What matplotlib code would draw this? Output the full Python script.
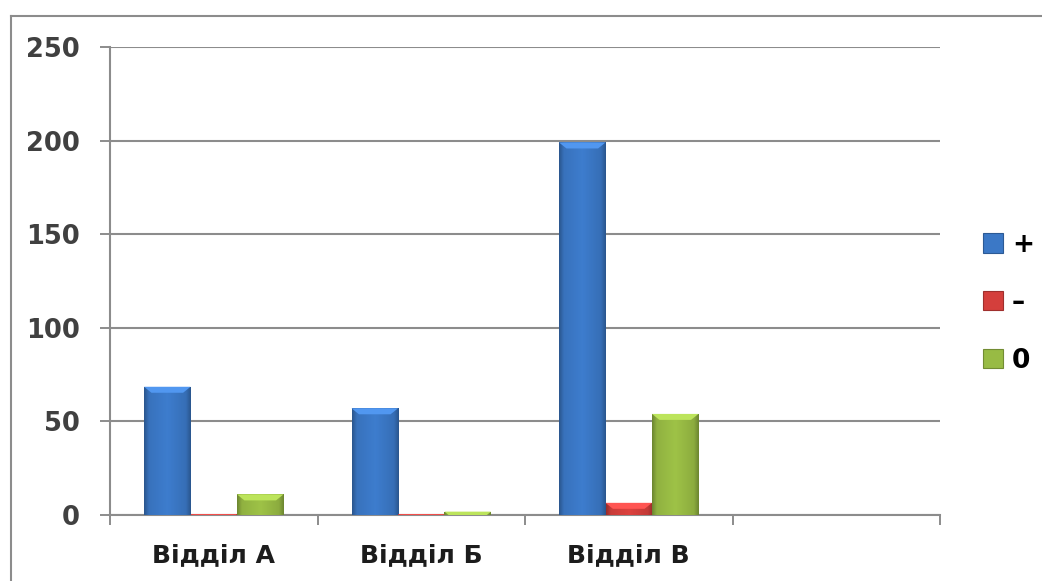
import numpy as np
import matplotlib.pyplot as plt
from matplotlib.colors import LinearSegmentedColormap, to_rgb
from matplotlib.lines import Line2D
from matplotlib.patches import Patch, Polygon

departments = ['Відділ А', 'Відділ Б', 'Відділ В', '']
series_names = ['+', '–', '0']
plus_vals = [68.5, 57, 199, 0]
minus_vals = [0.4, 0.4, 6.5, 0]
zero_vals = [11, 1.8, 54, 0]
series_colors = ['#3b78c6', '#d43f3c', '#98bb44']

GRID = '#8c8c8c'
BEVEL = 3.2  # height of the lit top face, in data units


def shaded(color):
    # narrow dark sides, flat body
    c = np.array(to_rgb(color))
    dark = c * 0.72
    return LinearSegmentedColormap.from_list(
        'b', [(0, dark), (0.1, c * 0.95), (0.5, np.clip(c * 1.04, 0, 1)),
              (0.9, c * 0.92), (1, dark)])


def draw_bars(ax, xs, vals, color):
    bars = ax.bar(xs, vals, width=0.224, color=color, edgecolor='none', zorder=3)
    cmap = shaded(color)
    grad = np.linspace(0, 1, 64).reshape(1, -1)
    light = np.clip(np.array(to_rgb(color)) * 1.15 + 0.05, 0, 1)
    for b in bars:
        h = b.get_height()
        if h <= 0:
            continue
        x0, y0, w = b.get_x(), b.get_y(), b.get_width()
        im = ax.imshow(grad, cmap=cmap, aspect='auto', zorder=4,
                       extent=(x0, x0 + w, y0, y0 + h))
        im.set_clip_path(b)
        bh = min(BEVEL, h)
        inset = w * 0.16 * bh / BEVEL
        top = Polygon([(x0, y0 + h), (x0 + w, y0 + h),
                       (x0 + w - inset, y0 + h - bh), (x0 + inset, y0 + h - bh)],
                      closed=True, facecolor=light, edgecolor='none', zorder=5)
        ax.add_patch(top)
    return bars


fig = plt.figure(figsize=(10.42, 5.81), dpi=100)
ax = fig.add_axes([110 / 1042, 66 / 581, 830 / 1042, 468 / 581])

# outer frame: left and top edges, the rest runs off the figure
fy = 1 - 15.5 / 581
fx = 10.5 / 1042
fig.add_artist(Line2D([fx, fx], [0, fy], transform=fig.transFigure, color=GRID, lw=1.5))
fig.add_artist(Line2D([fx, 1], [fy, fy], transform=fig.transFigure, color=GRID, lw=1.5))

x = np.arange(len(departments))
offs = [-0.224, 0.0, 0.224]
for vals, off, col in zip([plus_vals, minus_vals, zero_vals], offs, series_colors):
    draw_bars(ax, x + off, vals, col)

ax.set_xlim(-0.5, 3.5)
ax.set_ylim(0, 250)
ax.set_yticks(np.arange(0, 251, 50))
ax.yaxis.grid(True, color=GRID, linewidth=1.5, zorder=0)
ax.set_axisbelow(True)

ax.set_xticks(x)
ax.set_xticklabels(departments, fontsize=18, fontweight='bold', color='#1c1c1c')
ax.set_xticks(np.arange(-0.5, 3.6, 1), minor=True)
ax.tick_params(axis='x', which='major', length=0, pad=20)
ax.tick_params(axis='x', which='minor', length=7.5, width=1.4, color=GRID, direction='out')
ax.tick_params(axis='y', length=7.5, width=1.4, color=GRID, direction='out', pad=14,
               labelsize=18.5, labelcolor='#404040')
for lab in ax.get_yticklabels():
    lab.set_fontweight('bold')

for side in ['top', 'right']:
    ax.spines[side].set_visible(False)
for side in ['left', 'bottom']:
    ax.spines[side].set_color(GRID)
    ax.spines[side].set_linewidth(1.5)

handles = [Patch(facecolor=c, edgecolor=np.array(to_rgb(c)) * 0.75, linewidth=0.8)
           for c in series_colors]
fig.legend(handles, series_names, loc='center left',
           bbox_to_anchor=(983 / 1042, 1 - 303 / 581),
           frameon=False, borderpad=0, borderaxespad=0,
           handlelength=0.75, handleheight=0.75, handletextpad=0.35, labelspacing=1.2,
           prop={'size': 19, 'weight': 'bold'})

plt.savefig('out.png', dpi=100)
plt.close()
